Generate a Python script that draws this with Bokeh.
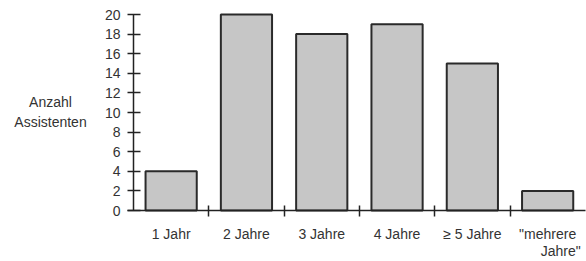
from bokeh.plotting import figure
from bokeh.models import FixedTicker, Label, Range1d
from bokeh.embed import file_html
from bokeh.resources import INLINE

categories = ["1 Jahr", "2 Jahre", "3 Jahre", "4 Jahre", "\u2265 5 Jahre", "\"mehrere"]
last_label_line2 = "Jahre\""
values = [4, 20, 18, 19, 15, 2]
y_ticks = [0, 2, 4, 6, 8, 10, 12, 14, 16, 18, 20]
y_title = ["Anzahl", "Assistenten"]

FONT = "Liberation Sans"
DARK = "#222222"
TXT = "#333333"

W, H = 586, 261
px_per_x = 75.3
x0_px = 133.0
px_per_y = 9.8
y0_px = 210.0

p = figure(width=W, height=H, output_backend="svg", toolbar_location=None,
           x_range=Range1d(-x0_px / px_per_x, (W - x0_px) / px_per_x),
           y_range=Range1d(-(H - y0_px) / px_per_y, y0_px / px_per_y),
           min_border_left=0, min_border_right=0, min_border_top=0, min_border_bottom=0)
p.outline_line_color = None
p.grid.grid_line_color = None
p.background_fill_color = "white"
p.border_fill_color = "white"

n = len(categories)
centers = [i + 0.5 for i in range(n)]
p.vbar(x=centers, top=values, bottom=0, width=0.68, fill_color="#c6c6c6",
       line_color="#2a2a2a", line_width=2)

xa = p.xaxis[0]
xa.fixed_location = 0
xa.ticker = FixedTicker(ticks=centers, minor_ticks=list(range(1, n)))
xa.bounds = (-0.08, n)
xa.major_label_overrides = {c: lab for c, lab in zip(centers, categories)}
xa.major_tick_in = 0
xa.major_tick_out = 0
xa.minor_tick_in = 5
xa.minor_tick_out = 6
xa.minor_tick_line_color = DARK
xa.minor_tick_line_width = 1.5
xa.axis_line_color = DARK
xa.axis_line_width = 1.5
xa.major_label_standoff = 9
xa.major_label_text_font = FONT
xa.major_label_text_font_size = "14px"
xa.major_label_text_color = TXT

ya = p.yaxis[0]
ya.fixed_location = 0
ya.bounds = (0, max(y_ticks))
ya.ticker = FixedTicker(ticks=y_ticks, minor_ticks=[])
ya.major_tick_in = 7
ya.major_tick_out = 6
ya.major_tick_line_color = DARK
ya.major_tick_line_width = 1.5
ya.axis_line_color = DARK
ya.axis_line_width = 1.5
ya.major_label_standoff = 7
ya.major_label_text_font = FONT
ya.major_label_text_font_size = "14px"
ya.major_label_text_color = TXT

# second line of the last category label, right-aligned under the first line
p.add_layout(Label(x=n - 0.06, y=-(250 - y0_px) / px_per_y, text=last_label_line2,
                   text_align="right", text_baseline="middle",
                   text_font=FONT, text_font_size="14px", text_color=TXT))

for txt, ypx in zip(y_title, [101, 121]):
    p.add_layout(Label(x=(50 - x0_px) / px_per_x, y=(y0_px - ypx) / px_per_y, text=txt,
                       text_align="center", text_baseline="middle",
                       text_font=FONT, text_font_size="14px", text_color=TXT))

open("out.html", "w").write(file_html(p, INLINE))
